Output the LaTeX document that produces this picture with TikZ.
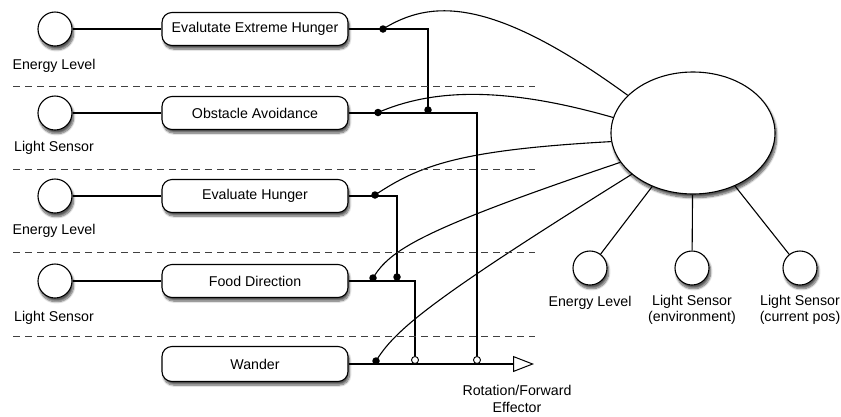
\documentclass[tikz,border=0pt]{standalone}
\usepackage{fontspec}
\setmainfont{Liberation Sans}
\usetikzlibrary{shapes.geometric,arrows.meta,shadows.blur}
\pgfdeclarelayer{bg}
\pgfsetlayers{bg,main}
\tikzset{
  shad/.style={blur shadow={shadow xshift=1.5pt,shadow yshift=-3.5pt,shadow blur steps=8,shadow blur extra rounding=2pt,shadow opacity=65}},
  sensor/.style={circle,draw,fill=white,line width=1.1pt,minimum size=34pt,inner sep=0pt,shad},
  behav/.style={rectangle,rounded corners=10pt,draw,fill=white,line width=1.1pt,minimum width=186pt,minimum height=33pt,inner sep=0pt,shad},
  lbl/.style={inner sep=0pt,align=center},
  dot/.style={circle,fill=black,inner sep=0pt,minimum size=7.5pt},
  odot/.style={circle,draw,fill=white,line width=0.9pt,inner sep=0pt,minimum size=7pt},
  conn/.style={line width=1.1pt},
  sep/.style={black!75,line width=1pt,dash pattern=on 7pt off 5pt},
}
\begin{document}
\begin{tikzpicture}[x=1pt,y=-1pt,font=\fontsize{14.2}{16.5}\selectfont]
\useasboundingbox (0,0) rectangle (841,416);
% separators
\draw[sep] (13,86) -- (535,86);
\draw[sep] (13,169) -- (535,169);
\draw[sep] (13,252) -- (535,252);
\draw[sep] (13,336) -- (535,336);
% left sensors
\node[sensor] (s1) at (55,29) {};
\node[sensor] (s2) at (55,113) {};
\node[sensor] (s3) at (55,196) {};
\node[sensor] (s4) at (55,281) {};
\node[lbl] (l1) at (54,66) {Energy Level};
\node[lbl] (l2) at (54,148) {Light Sensor};
\node[lbl] (l3) at (54,231) {Energy Level};
\node[lbl] (l4) at (54,318) {Light Sensor};
% behaviours
\node[behav] (b1) at (255,29) {Evalutate Extreme Hunger};
\node[behav] (b2) at (255,113) {Obstacle Avoidance};
\node[behav] (b3) at (255,196) {Evaluate Hunger};
\node[behav] (b4) at (255,281) {Food Direction};
\node[behav,minimum height=35pt] (b5) at (255,364) {Wander};
% big ellipse and right sensors
\node[ellipse,draw,fill=white,line width=1.1pt,minimum width=164pt,minimum height=122pt,inner sep=0pt,shad] (E) at (693,133) {};
\node[sensor] (r1) at (590,268) {};
\node[sensor] (r2) at (692,268) {};
\node[sensor] (r3) at (800,268) {};
\node[lbl] (rl1) at (590,303) {Energy Level};
\node[lbl,anchor=north] (rl2) at (692,295) {Light Sensor\\(environment)};
\node[lbl,anchor=north] (rl3) at (800,295) {Light Sensor\\(current pos)};
% junction dots
\node[dot] (d1) at (383,29) {};
\node[dot] (d12) at (428,110) {};
\node[dot] (d2) at (378,112.5) {};
\node[dot] (d3) at (375,195) {};
\node[dot] (d4) at (373,278) {};
\node[dot] (d34) at (397,277) {};
\node[dot] (d5) at (376,361) {};
\node[odot] (o4) at (415,360) {};
\node[odot] (o2) at (477,360) {};
\coordinate (c1) at (428,29);
\coordinate (c2) at (477,113);
\coordinate (c3) at (397,196);
\coordinate (c4) at (415,281);
\coordinate (eff) at (534,364);
\node[lbl] (effl) at (517,399) {Rotation/Forward\\Effector};
\begin{pgfonlayer}{bg}
\draw[conn] (s1) -- (b1);
\draw[conn] (s2) -- (b2);
\draw[conn] (s3) -- (b3);
\draw[conn] (s4) -- (b4);
\draw[conn] (b1.east) -- (c1) -- (d12.center);
\draw[conn] (b2.east) -- (c2) -- (o2.north);
\draw[conn] (b3.east) -- (c3) -- (d34.center);
\draw[conn] (b4.east) -- (c4) -- (o4.north);
\draw[conn,-{Triangle[open,length=21pt,width=16pt,line width=1pt]}] (b5.east) -- (eff);
% curves to the ellipse
\draw[conn] (d1.center) .. controls (430,0) and (490,-5) .. (E.150);
\draw[conn] (d2.center) .. controls (430,90) and (500,85) .. (E.169);
\draw[conn] (d3.center) .. controls (420,165) and (460,150) .. (E.186);
\draw[conn] (d4.center) .. controls (390,250) and (420,230) .. (E.202);
\draw[conn] (d5.center) .. controls (395,330) and (430,300) .. (E.214);
% ellipse to sensors
\draw[conn] (E) -- (r1);
\draw[conn] (E) -- (r2);
\draw[conn] (E) -- (r3);
\end{pgfonlayer}
\end{tikzpicture}
\end{document}
